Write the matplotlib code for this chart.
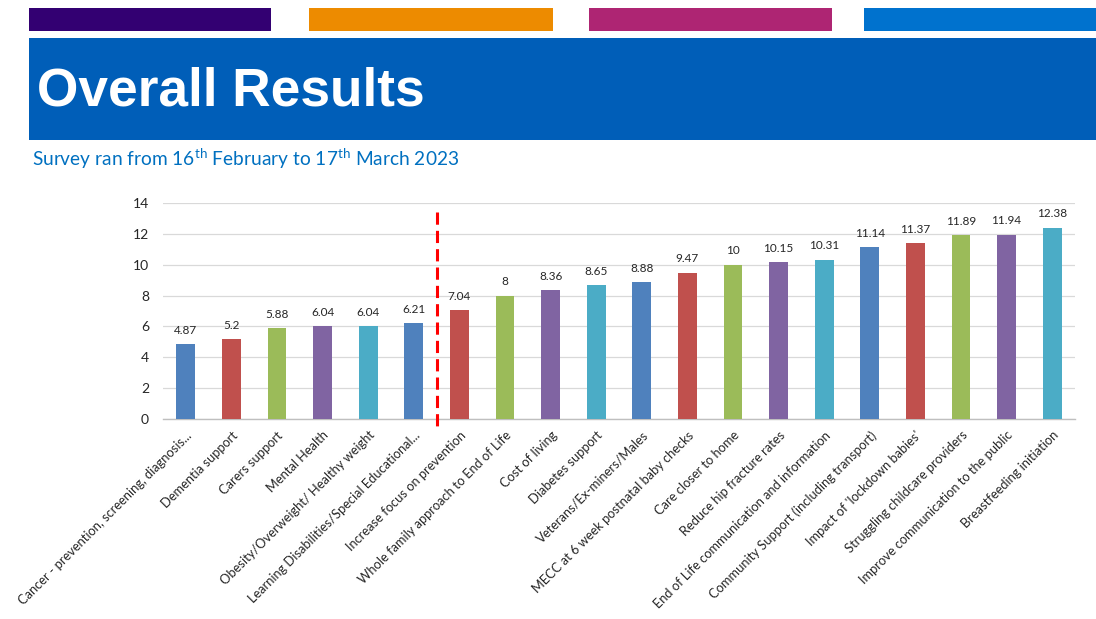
import matplotlib
matplotlib.use("Agg")
import matplotlib.pyplot as plt
from matplotlib.patches import Rectangle

plt.rcParams['font.family'] = ['Lato', 'DejaVu Sans']
plt.rcParams['mathtext.fontset'] = 'custom'
plt.rcParams['mathtext.rm'] = 'Lato'
plt.rcParams['mathtext.it'] = 'Lato:italic'
plt.rcParams['mathtext.bf'] = 'Lato:bold'

categories = [
    "Cancer - prevention, screening, diagnosis...",
    "Dementia support",
    "Carers support",
    "Mental Health",
    "Obesity/Overweight/ Healthy weight",
    "Learning Disabilities/Special Educational...",
    "Increase focus on prevention",
    "Whole family approach to End of Life",
    "Cost of living",
    "Diabetes support",
    "Veterans/Ex-miners/Males",
    "MECC at 6 week postnatal baby checks",
    "Care closer to home",
    "Reduce hip fracture rates",
    "End of Life communication and information",
    "Community Support (including transport)",
    "Impact of 'lockdown babies'",
    "Struggling childcare providers",
    "Improve communication to the public",
    "Breastfeeding initiation",
]
values = [4.87, 5.2, 5.88, 6.04, 6.04, 6.21, 7.04, 8, 8.36, 8.65,
          8.88, 9.47, 10, 10.15, 10.31, 11.14, 11.37, 11.89, 11.94, 12.38]
value_labels = ["4.87", "5.2", "5.88", "6.04", "6.04", "6.21", "7.04", "8", "8.36", "8.65",
                "8.88", "9.47", "10", "10.15", "10.31", "11.14", "11.37", "11.89", "11.94", "12.38"]
yticks = [0, 2, 4, 6, 8, 10, 12, 14]
divider_after = 5  # dashed line between 6th and 7th bar

palette = ["#4F81BD", "#C0504D", "#9BBB59", "#8064A2", "#4BACC6"]

W, H = 1096, 619
fig = plt.figure(figsize=(W / 100, H / 100), dpi=100)
fig.patch.set_facecolor("white")


def rect(x0, y0, x1, y1, color):
    fig.patches.append(Rectangle((x0 / W, 1 - y1 / H), (x1 - x0) / W, (y1 - y0) / H,
                                 transform=fig.transFigure, facecolor=color,
                                 edgecolor="none", zorder=0))


# header colour strips
rect(29, 8, 271, 31, "#330072")
rect(309, 8, 553, 31, "#ED8B00")
rect(589, 8, 832, 31, "#AE2573")
rect(864, 8, 1096, 31, "#0072CE")
# banner
rect(29, 38, 1096, 140, "#005EB8")

fig.text(37 / W, 1 - 106 / H, "Overall Results", color="white", fontsize=38.3,
         fontweight="bold", family=["Liberation Sans", "DejaVu Sans"],
         ha="left", va="baseline")

fig.text(32 / W, 1 - 166 / H,
         r"Survey ran from 16$^{\mathrm{th}}$ February to 17$^{\mathrm{th}}$ March 2023",
         color="#0070C0", fontsize=13.8, ha="left", va="baseline")

ax = fig.add_axes([163 / W, 1 - 419.3 / H, 912 / W, (419.3 - 202.7) / H])
x = list(range(len(values)))
colors = [palette[i % len(palette)] for i in x]
bars = ax.bar(x, values, width=0.41, color=colors, zorder=3)

for xi, v, lab in zip(x, values, value_labels):
    ax.annotate(lab, (xi, v), xytext=(0, 6), textcoords="offset points",
                ha="center", va="bottom", fontsize=8.5, color="#262626")

ax.set_xlim(-0.5, len(values) - 0.5)
ax.set_ylim(0, 14)
ax.set_yticks(yticks)
ax.set_yticklabels([str(t) for t in yticks], fontsize=10, color="#262626")
ax.yaxis.grid(True, color="#D9D9D9", linewidth=0.9, zorder=0)
ax.set_axisbelow(True)
for s in ["top", "right", "left"]:
    ax.spines[s].set_visible(False)
ax.spines["bottom"].set_color("#BFBFBF")
ax.spines["bottom"].set_linewidth(1.0)
ax.tick_params(axis="y", length=0, pad=10)
ax.tick_params(axis="x", length=0, pad=7)
ax.set_xticks(x)
ax.set_xticklabels(categories, rotation=45, ha="right", va="top",
                   rotation_mode="anchor", fontsize=9.3, color="#262626")

xd = divider_after + 0.5
ax.plot([xd, xd], [13.4, -0.7], color="#FF0000", linewidth=2.2,
        dashes=(4, 2), clip_on=False, zorder=4)

fig.savefig("out.png", dpi=100)
